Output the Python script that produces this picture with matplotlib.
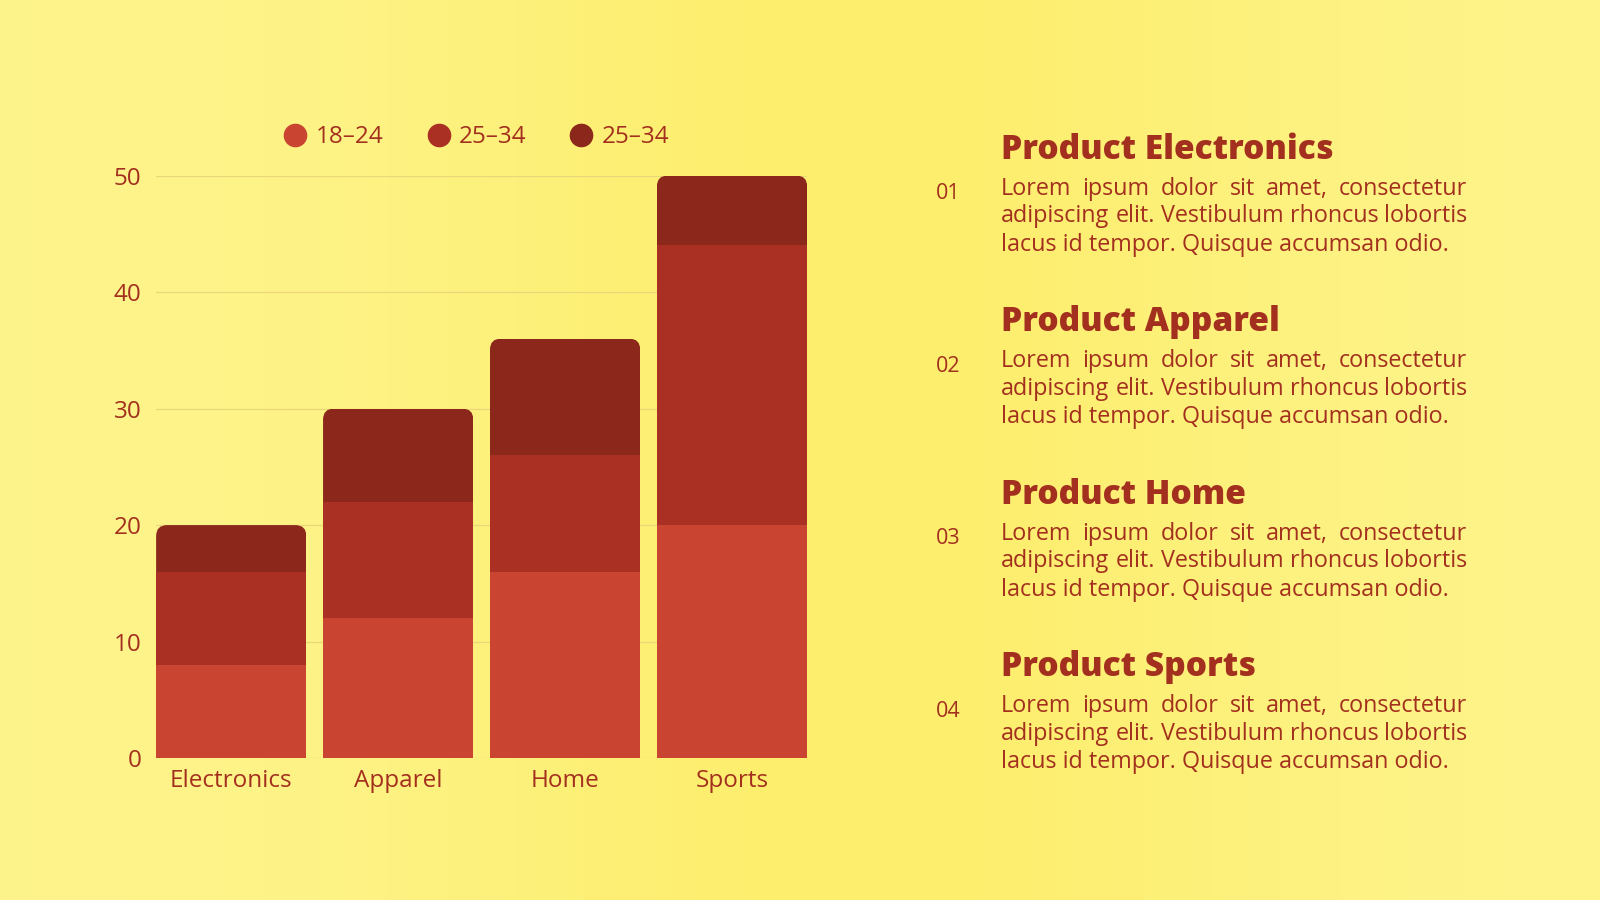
import matplotlib
matplotlib.use('Agg')
import matplotlib.pyplot as plt
import numpy as np
from matplotlib.patches import FancyBboxPatch
from matplotlib.lines import Line2D
from matplotlib.transforms import IdentityTransform

# ---------------- data ----------------
categories = ['Electronics', 'Apparel', 'Home', 'Sports']
age_18_24 = [8, 12, 16, 20]
age_25_34 = [8, 10, 10, 24]
age_25_34_b = [4, 8, 10, 6]
series_labels = ['18–24', '25–34', '25–34']
yticks = [0, 10, 20, 30, 40, 50]
titles = ['Product Electronics', 'Product Apparel', 'Product Home', 'Product Sports']
numbers = ['01', '02', '03', '04']
body_lines = ['Lorem ipsum dolor sit amet, consectetur',
              'adipiscing elit. Vestibulum rhoncus lobortis',
              'lacus id tempor. Quisque accumsan odio.']

# ---------------- style ----------------
C1, C2, C3 = '#C94532', '#A93022', '#8B281B'
TXT = '#A3301F'
FONT = ['Open Sans', 'DejaVu Sans']
plt.rcParams['font.family'] = FONT

W, H = 1600, 900
S = W / 1568.0
fig = plt.figure(figsize=(16, 9), dpi=100)

# background gradient
bg = fig.add_axes([0, 0, 1, 1], zorder=-10)
xs = np.linspace(0, 1, 400)
edge = np.array([0xFE, 0xF4, 0x8C]) / 255.0
mid = np.array([0xFD, 0xEE, 0x6D]) / 255.0
wgt = np.exp(-((xs - 0.54) / 0.28) ** 2)
row = edge[None, :] * (1 - wgt[:, None]) + mid[None, :] * wgt[:, None]
img = np.repeat(row[None, :, :], 10, axis=0)
bg.imshow(img, aspect='auto', extent=[0, 1, 0, 1], origin='lower')
bg.set_xlim(0, 1); bg.set_ylim(0, 1)
bg.axis('off')

# main axes
def fx(px): return px * S / W
def fy(py): return 1 - py * S / H

left, right = fx(153), fx(791)
bottom, top = fy(743), fy(172)
ax = fig.add_axes([left, bottom, right - left, top - bottom])
ax.set_facecolor('none')
x = np.arange(len(categories))
bw = 0.9
b1 = ax.bar(x, age_18_24, width=bw, color=C1, zorder=3, linewidth=0)
b2 = ax.bar(x, age_25_34, width=bw, bottom=age_18_24, color=C2, zorder=3, linewidth=0)
bot3 = [a + b for a, b in zip(age_18_24, age_25_34)]
b3 = ax.bar(x, age_25_34_b, width=bw, bottom=bot3, color=C3, zorder=3, linewidth=0)
ax.set_xlim(-0.45, len(categories) - 0.55)
ax.set_ylim(0, 50)
ax.set_yticks(yticks)
ax.set_xticks(x)
ax.set_xticklabels(categories)
ax.tick_params(axis='both', length=0, labelcolor=TXT, labelsize=17.5)
ax.tick_params(axis='y', pad=10.5)
ax.tick_params(axis='x', pad=8)
for sp in ax.spines.values():
    sp.set_visible(False)
ax.grid(axis='y', color='#E9D77A', linewidth=0.9, zorder=0)
ax.set_axisbelow(True)

# rounded tops for the top segments
for rect in b3:
    x0, y0 = rect.get_x(), rect.get_y()
    x1, y1 = x0 + rect.get_width(), y0 + rect.get_height()
    (X0, Y0), (X1, Y1) = ax.transData.transform([(x0, y0), (x1, y1)])
    clip = FancyBboxPatch((X0, Y0 - 40), X1 - X0, (Y1 - Y0) + 40,
                          boxstyle='round,pad=0,rounding_size=11',
                          transform=IdentityTransform())
    rect.set_clip_path(clip)

# legend
handles = [Line2D([0], [0], marker='o', linestyle='none', markersize=16,
                  markerfacecolor=c, markeredgecolor=c) for c in (C1, C2, C3)]
leg = fig.legend(handles, series_labels, loc='center', ncol=3,
                 bbox_to_anchor=(fx(467), fy(134.5)), frameon=False,
                 fontsize=17.5, labelcolor=TXT, handletextpad=0.35,
                 columnspacing=1.75, handlelength=1.0)

# right text panel
renderer = fig.canvas.get_renderer()
TW = 800

def text_width(s, size, weight='normal'):
    t = fig.text(0, 0, s, fontsize=size, fontweight=weight)
    w = t.get_window_extent(renderer).width
    t.remove()
    return w

# fit sizes to reference widths
title_size = 10 * (333.0 / text_width('Product Electronics', 10, TW))
body_size = 10 * (449.0 / text_width(body_lines[2], 10))

xl, xr = 981 * S, 1438 * S

def justified(line, y_px, size):
    words = line.split(' ')
    widths = [text_width(w, size) for w in words]
    gap = ((xr - xl) - sum(widths)) / (len(words) - 1)
    cx = xl
    for w, wd in zip(words, widths):
        fig.text(cx / W, 1 - y_px / H, w, fontsize=size, color=TXT,
                 ha='left', va='center')
        cx += wd + gap

for i, (ttl, num) in enumerate(zip(titles, numbers)):
    off = i * 169
    fig.text(xl / W, fy(147 + off), ttl, fontsize=title_size, fontweight=TW,
             color=TXT, ha='left', va='center')
    fig.text(fx(917), fy(190 + off), num, fontsize=15.5, color=TXT,
             ha='left', va='center')
    justified(body_lines[0], (185 + off) * S, body_size)
    justified(body_lines[1], (212 + off) * S, body_size)
    fig.text(xl / W, fy(240 + off), body_lines[2], fontsize=body_size,
             color=TXT, ha='left', va='center')

fig.savefig('out.png', dpi=100)
